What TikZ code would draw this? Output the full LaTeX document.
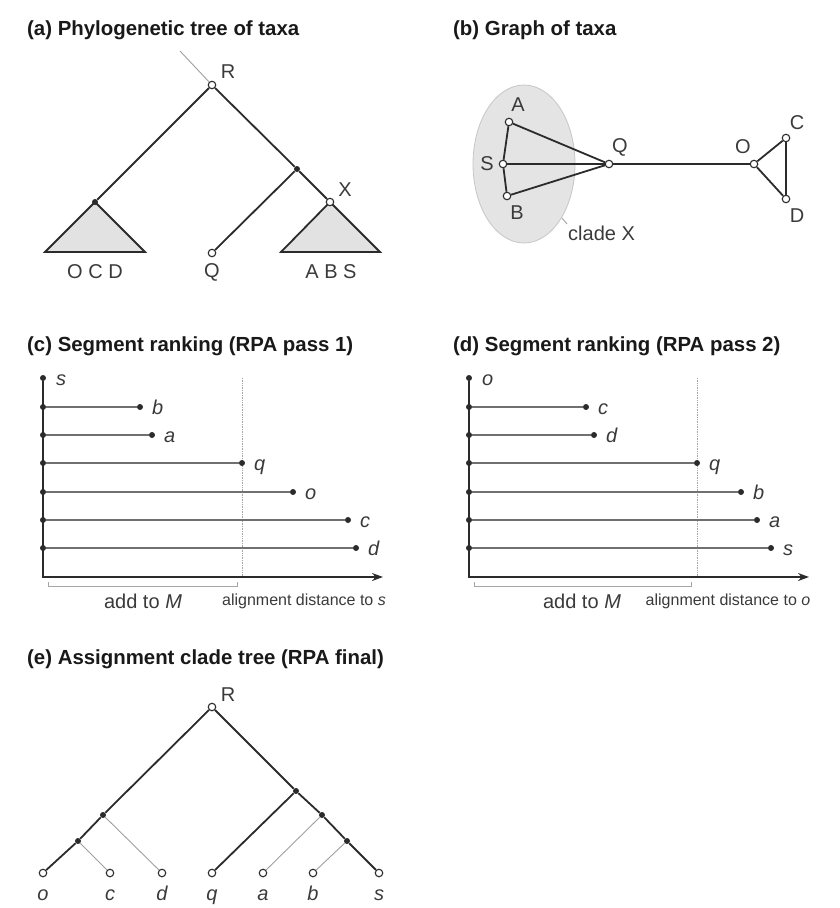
\documentclass[tikz,border=0pt]{standalone}
\usepackage{fontspec}
\setmainfont{Liberation Sans}
\usetikzlibrary{arrows.meta}
\definecolor{ink}{HTML}{2B2B2B}
\definecolor{txt}{HTML}{3A3A3A}
\definecolor{tri}{HTML}{E2E2E2}
\definecolor{ell}{HTML}{E4E4E4}
\definecolor{seg}{HTML}{707070}
\begin{document}
\begin{tikzpicture}[x=1pt,y=-1pt,
  ln/.style={line width=1.8pt,draw=ink},
  thinln/.style={line width=0.9pt,draw=gray!75},
  segln/.style={line width=1.3pt,draw=seg},
  onode/.style={circle,draw=ink,fill=white,line width=1.1pt,inner sep=0pt,minimum size=7.5pt},
  dnode/.style={circle,fill=ink,inner sep=0pt,minimum size=6pt},
  lab/.style={font=\fontsize{20}{20}\selectfont,text=txt,inner sep=0pt},
  ilab/.style={font=\fontsize{20}{20}\selectfont\itshape,text=txt,inner sep=0pt},
  small/.style={font=\fontsize{16}{16}\selectfont,text=txt,inner sep=0pt},
  ttl/.style={font=\fontsize{20.4}{20.4}\selectfont\bfseries,anchor=west,text=black!90,inner sep=0pt},
  dotv/.style={line width=0.7pt,draw=gray!70,densely dotted},
  brk/.style={line width=0.9pt,draw=gray!70},
  axis/.style={line width=1.8pt,draw=ink,-{Stealth[length=11pt,width=8pt]}},
]
\useasboundingbox (0,0) rectangle (840,908);

% ---------------- (a) ----------------
\node[ttl] (ta) at (27,30) {(a) Phylogenetic tree of taxa};
\coordinate (aR0) at (180,51);
\coordinate (aLc) at (95,202);
\coordinate (aXc) at (330,202);
\draw[ln,fill=tri] (aLc) -- (45,252) -- (145,252) -- cycle;
\draw[ln,fill=tri] (aXc) -- (281,252) -- (380,252) -- cycle;
\node[onode] (aR) at (212,85) {};
\node[dnode] (aL) at (aLc) {};
\node[dnode] (aM) at (297,169) {};
\node[onode] (aX) at (aXc) {};
\node[onode] (aQ) at (212,253) {};
\draw[thinln] (aR0) -- (aR);
\draw[ln] (aR) -- (aL);
\draw[ln] (aR) -- (aM);
\draw[ln] (aM) -- (aX);
\draw[ln] (aM) -- (aQ);
\node[lab] (aRl) at (228,72) {R};
\node[lab] (aXl) at (345,190) {X};
\node[lab] (aOCD) at (95,272) {O C D};
\node[lab] (aQl) at (212,272) {Q};
\node[lab] (aABS) at (331,272) {A B S};

% ---------------- (b) ----------------
\node[ttl] (tb) at (453,30) {(b) Graph of taxa};
\draw[fill=ell,draw=gray!45,line width=0.8pt] (524,164) ellipse [x radius=51, y radius=79];
\node[onode] (bA) at (509,122) {};
\node[onode] (bS) at (503,164) {};
\node[onode] (bB) at (507,196) {};
\node[onode] (bQ) at (609,164) {};
\node[onode] (bO) at (754,164) {};
\node[onode] (bC) at (786,138) {};
\node[onode] (bD) at (786,199) {};
\draw[ln] (bA) -- (bS);
\draw[ln] (bS) -- (bB);
\draw[ln] (bA) -- (bQ);
\draw[ln] (bS) -- (bQ);
\draw[ln] (bB) -- (bQ);
\draw[ln] (bQ) -- (bO);
\draw[ln] (bO) -- (bC);
\draw[ln] (bO) -- (bD);
\draw[ln] (bC) -- (bD);
\node[lab] (bAl) at (518,105) {A};
\node[lab] (bSl) at (487,164) {S};
\node[lab] (bBl) at (517,213) {B};
\node[lab] (bQl) at (620,147) {Q};
\node[lab] (bOl) at (743,147) {O};
\node[lab] (bCl) at (797,123) {C};
\node[lab] (bDl) at (797,216) {D};
\coordinate (bX0) at (562,218);
\node[lab,anchor=west] (bXl) at (568,233) {clade X};
\draw[brk] (bX0) -- (567,224);

% ---------------- (c) ----------------
\node[ttl] (tc) at (27,346) {(c) Segment ranking (RPA pass 1)};
\coordinate (cO) at (43,577);
\coordinate (cE) at (383,577);
\draw[dotv] (242,378) -- (242,577);
\foreach \nm/\y/\x in {b/407/140, a/435/152, q/463/242, o/492/293, c/520/348, d/548/356}{
  \node[dnode] (c0\nm) at (43,\y) {};
  \node[dnode] (c1\nm) at (\x,\y) {};
  \draw[segln] (c0\nm) -- (c1\nm);
  \node[ilab,anchor=base west] (cl\nm) at (\x+12,\y+7) {\nm};
}
\node[dnode] (cs) at (43,378) {};
\node[ilab,anchor=base west] (cls) at (56,385) {s};
\draw[axis] (cs) -- (cO) -- (cE);
\draw[brk] (48,582) -- (48,586) -- (237,586) -- (237,582);
\node[lab] (cadd) at (143,601) {add to \textit{M}};
\node[small] (cax) at (304,601) {alignment distance to \textit{s}};

% ---------------- (d) ----------------
\node[ttl] (td) at (453,346) {(d) Segment ranking (RPA pass 2)};
\coordinate (dO) at (469,577);
\coordinate (dE) at (809,577);
\draw[dotv] (697,378) -- (697,577);
\foreach \nm/\y/\x in {c/407/586, d/435/594, q/463/697, b/492/741, a/520/757, s/548/771}{
  \node[dnode] (d0\nm) at (469,\y) {};
  \node[dnode] (d1\nm) at (\x,\y) {};
  \draw[segln] (d0\nm) -- (d1\nm);
  \node[ilab,anchor=base west] (dl\nm) at (\x+12,\y+7) {\nm};
}
\node[dnode] (do) at (469,378) {};
\node[ilab,anchor=base west] (dlo) at (482,385) {o};
\draw[axis] (do) -- (dO) -- (dE);
\draw[brk] (474,582) -- (474,586) -- (691,586) -- (691,582);
\node[lab] (dadd) at (582,601) {add to \textit{M}};
\node[small] (dax) at (728,601) {alignment distance to \textit{o}};

% ---------------- (e) ----------------
\node[ttl] (te) at (27,659) {(e) Assignment clade tree (RPA final)};
\node[onode] (eR) at (212,707) {};
\node[dnode] (eL1) at (103,815) {};
\node[dnode] (eL2) at (78,841) {};
\node[dnode] (eR1) at (296,791) {};
\node[dnode] (eR2) at (322,815) {};
\node[dnode] (eR3) at (347,841) {};
\foreach \nm/\x in {o/43, c/110, d/162, q/212, a/263, b/313, s/379}{
  \node[onode] (e\nm) at (\x,873) {};
  \node[ilab,anchor=base] (el\nm) at (\x,900) {\nm};
}
\draw[ln] (eR) -- (eL1);
\draw[ln] (eL1) -- (eL2);
\draw[ln] (eL2) -- (eo);
\draw[thinln] (eL2) -- (ec);
\draw[thinln] (eL1) -- (ed);
\draw[ln] (eR) -- (eR1);
\draw[ln] (eR1) -- (eq);
\draw[ln] (eR1) -- (eR2);
\draw[ln] (eR2) -- (eR3);
\draw[ln] (eR3) -- (es);
\draw[thinln] (eR2) -- (ea);
\draw[thinln] (eR3) -- (eb);
\node[lab] (eRl) at (228,695) {R};
\end{tikzpicture}
\end{document}
